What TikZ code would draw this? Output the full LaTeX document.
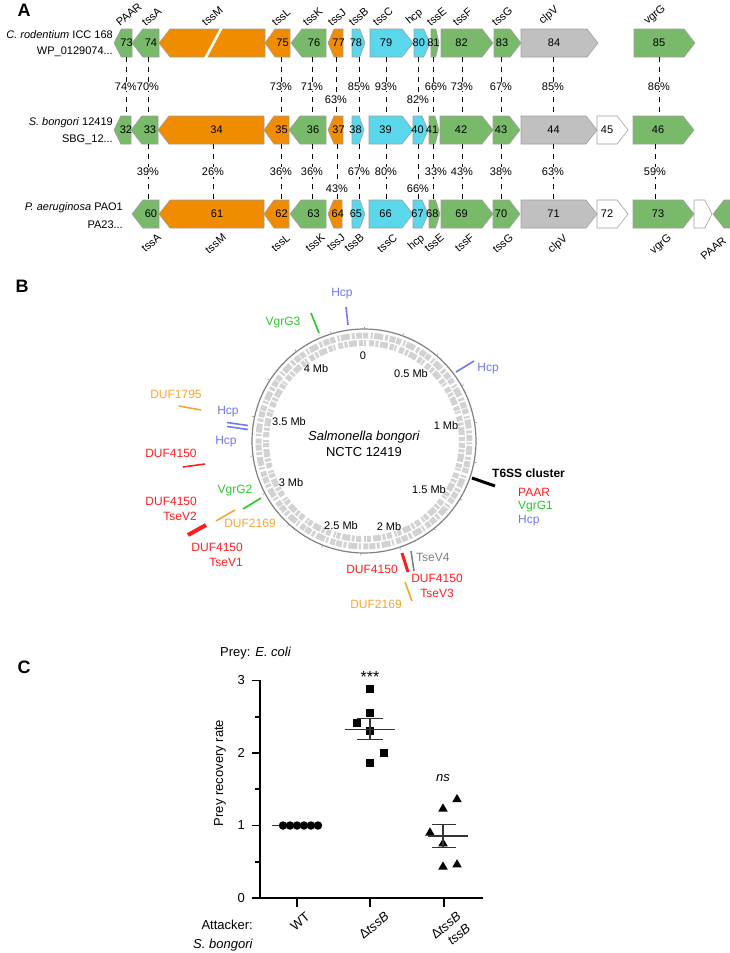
\documentclass[tikz,border=0pt]{standalone}
\usepackage{fontspec}
\setmainfont{Liberation Sans}
\usepackage{tikz}
\usepackage{xcolor}
\usetikzlibrary{shapes.geometric}

\definecolor{genegreen}{RGB}{120,185,106}
\definecolor{geneorange}{RGB}{240,140,0}
\definecolor{genecyan}{RGB}{90,215,235}
\definecolor{genegray}{RGB}{192,192,192}
\definecolor{hcpblue}{RGB}{110,120,240}
\definecolor{vgrgreen}{RGB}{40,200,40}
\definecolor{dufred}{RGB}{255,30,30}
\definecolor{duforange}{RGB}{245,165,50}
\definecolor{trackgray}{RGB}{210,210,210}

\tikzset{%
  genebox/.style={draw=gray!75, line width=.6pt},
  genenum/.style={font=\fontsize{11}{13}\selectfont, inner sep=0pt},
  genename/.style={font=\fontsize{11}{13}\selectfont, inner sep=0pt, rotate=40},
  strainname/.style={font=\fontsize{11}{13}\selectfont, inner sep=0pt, anchor=east},
  idline/.style={line width=.8pt, dash pattern=on 5pt off 5pt},
  pct/.style={font=\fontsize{11}{13}\selectfont, fill=white, inner sep=1pt},
  panel/.style={font=\fontsize{18}{20}\selectfont\bfseries, inner sep=0pt},
  mapline/.style={line width=1.6pt},
  maplabel/.style={font=\fontsize{12}{15}\selectfont, inner sep=0pt},
  scalelabel/.style={font=\fontsize{11}{13}\selectfont, inner sep=0pt},
  axisline/.style={line width=1.8pt, line cap=rect},
  errline/.style={line width=1.1pt, draw=black!80},
  plotlabel/.style={font=\fontsize{13}{15}\selectfont, inner sep=0pt},
  dotmark/.style={circle, fill=black, inner sep=0pt, minimum size=8.5pt},
  squaremark/.style={rectangle, fill=black, inner sep=0pt, minimum size=8pt},
  trianglemark/.style={regular polygon, regular polygon sides=3, fill=black, inner sep=0pt, minimum size=11pt},
}

% gene pointing right: x start, x tip, top, colour, name, number
\newcommand{\generight}[6]{%
  \pgfmathsetmacro{\headlen}{min(11,0.4*(#2-#1))}%
  \filldraw [genebox, fill=#4] (#1,#3) -- (#2-\headlen,#3) -- (#2,#3+14) -- (#2-\headlen,#3+28) -- (#1,#3+28) -- cycle;%
  \node [genenum] (#5) at ({(#1+#2-\headlen)/2},#3+14) {#6};%
}
% gene pointing left: x tip, x end, top, colour, name, number
\newcommand{\geneleft}[6]{%
  \pgfmathsetmacro{\headlen}{min(11,0.4*(#2-#1))}%
  \filldraw [genebox, fill=#4] (#1,#3+14) -- (#1+\headlen,#3) -- (#2,#3) -- (#2,#3+28) -- (#1+\headlen,#3+28) -- cycle;%
  \node [genenum] (#5) at ({(#1+\headlen+#2)/2},#3+14) {#6};%
}

\begin{document}
\begin{tikzpicture}[x=1pt, y=-1pt]%
\useasboundingbox (0,0) rectangle (730,953);%
%% A: gene clusters
\node [panel] (la) at (24,10) {A};%
\node [strainname] (cr1) at (113,35) {\textit{C. rodentium} ICC 168};%
\node [strainname] (cr2) at (113,52) {WP\_0129074...};%
\node [strainname] (sb1) at (113,123) {\textit{S. bongori} 12419};%
\node [strainname] (sb2) at (113,140) {SBG\_12...};%
\node [strainname] (pa1) at (123,208) {\textit{P. aeruginosa} PAO1};%
\node [strainname] (pa2) at (123,225) {PA23...};%
% row 1
\geneleft{114}{132}{29}{genegreen}{c73}{73}%
\geneleft{132}{159}{29}{genegreen}{c74}{74}%
\geneleft{159}{265}{29}{geneorange}{cM}{}%
\draw [white, line width=2.6pt] (222.5,26) -- (204.5,60);%
\geneleft{265}{290}{29}{geneorange}{c75}{75}%
\geneleft{291}{326}{29}{genegreen}{c76}{76}%
\geneleft{328}{343}{29}{geneorange}{c77}{77}%
\generight{352}{365}{29}{genecyan}{c78}{78}%
\generight{370}{413}{29}{genecyan}{c79}{79}%
\generight{414}{430}{29}{genecyan}{c80}{80}%
\generight{431}{439}{29}{genegreen}{c81}{81}%
\generight{441}{493}{29}{genegreen}{c82}{82}%
\generight{494}{521}{29}{genegreen}{c83}{83}%
\generight{521}{598}{29}{genegray}{c84}{84}%
\generight{634}{695}{29}{genegreen}{c85}{85}%
% row 2
\geneleft{114}{131}{116}{genegreen}{s32}{32}%
\geneleft{131}{158}{116}{genegreen}{s33}{33}%
\geneleft{158}{264}{116}{geneorange}{s34}{34}%
\geneleft{264}{289}{116}{geneorange}{s35}{35}%
\geneleft{289}{326}{116}{genegreen}{s36}{36}%
\geneleft{328}{343}{116}{geneorange}{s37}{37}%
\generight{352}{364}{116}{genecyan}{s38}{38}%
\generight{369}{413}{116}{genecyan}{s39}{39}%
\generight{413}{428}{116}{genecyan}{s40}{40}%
\generight{429}{439}{116}{genegreen}{s41}{41}%
\generight{440}{493}{116}{genegreen}{s42}{42}%
\generight{493}{520}{116}{genegreen}{s43}{43}%
\generight{521}{597}{116}{genegray}{s44}{44}%
\generight{597}{628}{116}{white}{s45}{45}%
\generight{633}{694}{116}{genegreen}{s46}{46}%
% row 3
\geneleft{132}{159}{200}{genegreen}{p60}{60}%
\geneleft{159}{264}{200}{geneorange}{p61}{61}%
\geneleft{264}{289}{200}{geneorange}{p62}{62}%
\geneleft{290}{326}{200}{genegreen}{p63}{63}%
\geneleft{328}{342}{200}{geneorange}{p64}{64}%
\generight{352}{365}{200}{genecyan}{p65}{65}%
\generight{369}{413}{200}{genecyan}{p66}{66}%
\generight{413}{428}{200}{genecyan}{p67}{67}%
\generight{429}{440}{200}{genegreen}{p68}{68}%
\generight{441}{493}{200}{genegreen}{p69}{69}%
\generight{493}{520}{200}{genegreen}{p70}{70}%
\generight{521}{597}{200}{genegray}{p71}{71}%
\generight{597}{628}{200}{white}{p72}{72}%
\generight{633}{694}{200}{genegreen}{p73}{73}%
\generight{694}{712}{200}{white}{p74}{}%
\filldraw [genebox, fill=genegreen] (713,214) -- (724,200) -- (730,200) -- (730,228) -- (724,228) -- cycle;%
% gene names
\node [genename, anchor=south west] (tPAAR) at (120,27) {PAAR};%
\node [genename, anchor=south west] (tA) at (146,27) {tssA};%
\node [genename, anchor=south west] (tM) at (206,27) {tssM};%
\node [genename, anchor=south west] (tL) at (276,27) {tssL};%
\node [genename, anchor=south west] (tK) at (307,27) {tssK};%
\node [genename, anchor=south west] (tJ) at (332,27) {tssJ};%
\node [genename, anchor=south west] (tB) at (353,27) {tssB};%
\node [genename, anchor=south west] (tC) at (377,27) {tssC};%
\node [genename, anchor=south west] (thcp) at (411,27) {hcp};%
\node [genename, anchor=south west] (tE) at (431,27) {tssE};%
\node [genename, anchor=south west] (tF) at (457,27) {tssF};%
\node [genename, anchor=south west] (tG) at (496,27) {tssG};%
\node [genename, anchor=south west] (tclpV) at (544,27) {clpV};%
\node [genename, anchor=south west] (tvgrG) at (649,27) {vgrG};%
\node [genename, anchor=north east] (bA) at (157,233) {tssA};%
\node [genename, anchor=north east] (bM) at (222,233) {tssM};%
\node [genename, anchor=north east] (bL) at (286,233) {tssL};%
\node [genename, anchor=north east] (bK) at (321,233) {tssK};%
\node [genename, anchor=north east] (bJ) at (341,233) {tssJ};%
\node [genename, anchor=north east] (bB) at (360,233) {tssB};%
\node [genename, anchor=north east] (bC) at (393,233) {tssC};%
\node [genename, anchor=north east] (bhcp) at (420,233) {hcp};%
\node [genename, anchor=north east] (bE) at (440,233) {tssE};%
\node [genename, anchor=north east] (bF) at (470,233) {tssF};%
\node [genename, anchor=north east] (bG) at (509,233) {tssG};%
\node [genename, anchor=north east] (bclpV) at (563,233) {clpV};%
\node [genename, anchor=north east] (bvgrG) at (667,233) {vgrG};%
\node [genename, anchor=north east] (bPAAR) at (722,236) {PAAR};%
% identities
\draw [idline] (126,57) -- node [pct] (cs1) {74\%} (126,116);%
\draw [idline] (148,57) -- node [pct] (cs2) {70\%} (148,116);%
\draw [idline] (281,57) -- node [pct] (cs3) {73\%} (281,116);%
\draw [idline] (312,57) -- node [pct] (cs4) {71\%} (312,116);%
\draw [idline] (336,57) -- node [pct, pos=.73] (cs5) {63\%} (336,116);%
\draw [idline] (359,57) -- node [pct] (cs6) {85\%} (359,116);%
\draw [idline] (386,57) -- node [pct] (cs7) {93\%} (386,116);%
\draw [idline] (418,57) -- node [pct, pos=.73] (cs8) {82\%} (418,116);%
\draw [idline] (433,57) -- node [pct, xshift=3pt] (cs9) {66\%} (433,116);%
\draw [idline] (462,57) -- node [pct] (cs10) {73\%} (462,116);%
\draw [idline] (501,57) -- node [pct] (cs11) {67\%} (501,116);%
\draw [idline] (553,57) -- node [pct] (cs12) {85\%} (553,116);%
\draw [idline] (659,57) -- node [pct] (cs13) {86\%} (659,116);%
\draw [idline] (148,144) -- node [pct] (sp1) {39\%} (148,200);%
\draw [idline] (213,144) -- node [pct] (sp2) {26\%} (213,200);%
\draw [idline] (281,144) -- node [pct] (sp3) {36\%} (281,200);%
\draw [idline] (312,144) -- node [pct] (sp4) {36\%} (312,200);%
\draw [idline] (337,144) -- node [pct, pos=.79] (sp5) {43\%} (337,200);%
\draw [idline] (359,144) -- node [pct] (sp6) {67\%} (359,200);%
\draw [idline] (386,144) -- node [pct] (sp7) {80\%} (386,200);%
\draw [idline] (418,144) -- node [pct, pos=.79] (sp8) {66\%} (418,200);%
\draw [idline] (433,144) -- node [pct, xshift=3pt] (sp9) {33\%} (433,200);%
\draw [idline] (462,144) -- node [pct] (sp10) {43\%} (462,200);%
\draw [idline] (501,144) -- node [pct] (sp11) {38\%} (501,200);%
\draw [idline] (553,144) -- node [pct] (sp12) {63\%} (553,200);%
\draw [idline] (655,144) -- node [pct] (sp13) {59\%} (655,200);%
%% B: genome map
\node [panel] (lb) at (22,286) {B};%
\begin{scope}[shift={(364,441)}]%
  \draw [trackgray, line width=6pt, dash pattern=on 6pt off 1.5pt on 3pt off 2pt on 9pt off 1.5pt on 2pt off 2.5pt on 5pt off 1pt] (0,0) circle [radius=105.5pt];%
  \draw [trackgray, line width=6pt, dash pattern=on 4pt off 2pt on 8pt off 1.5pt on 3pt off 1.5pt on 5pt off 3pt on 2pt off 1pt] (0,0) circle [radius=98pt];%
  \draw [gray, line width=1.2pt] (0,0) circle [radius=112pt];%
  \foreach \m in {0,0.25,...,4.3}%
    \draw [gray!80, line width=.7pt] ({360*\m/4.46-90}:112) -- ({360*\m/4.46-90}:114.5);%
\end{scope}%
\node [scalelabel] (m0) at (363,356) {0};%
\node [scalelabel] (m05) at (411,374) {0.5 Mb};%
\node [scalelabel] (m1) at (446,426) {1 Mb};%
\node [scalelabel] (m15) at (429,490) {1.5 Mb};%
\node [scalelabel] (m2) at (389,527) {2 Mb};%
\node [scalelabel] (m25) at (341,526) {2.5 Mb};%
\node [scalelabel] (m3) at (291,483) {3 Mb};%
\node [scalelabel] (m35) at (289,422) {3.5 Mb};%
\node [scalelabel] (m4) at (316,369) {4 Mb};%
\node [font=\fontsize{13}{16}\selectfont, align=center, inner sep=0pt] (gname) at (364,444) {\textit{Salmonella bongori}\\NCTC 12419};%
% loci
\draw [mapline, hcpblue] (346,307) -- (348,325);%
\node [maplabel, hcpblue] (hcp1) at (342,294) {Hcp};%
\draw [mapline, vgrgreen] (311,313) -- (319,333);%
\node [maplabel, vgrgreen] (vgrg3) at (283,323) {VgrG3};%
\draw [mapline, hcpblue] (456,372) -- (474,361);%
\node [maplabel, hcpblue] (hcp2) at (488,369) {Hcp};%
\draw [mapline, duforange] (179,406) -- (201,410);%
\node [maplabel, duforange] (duf1795) at (176,394) {DUF1795};%
\draw [mapline, hcpblue] (227,422.5) -- (248,425.5);%
\draw [mapline, hcpblue] (227,426.5) -- (248,429.5);%
\node [maplabel, hcpblue] (hcp3) at (228,412) {Hcp};%
\node [maplabel, hcpblue] (hcp4) at (226,442) {Hcp};%
\draw [mapline, dufred] (183,467) -- (205,464);%
\node [maplabel, dufred] (duf1) at (171,453) {DUF4150};%
\draw [mapline, vgrgreen] (243,509) -- (261,498);%
\node [maplabel, vgrgreen] (vgrg2) at (235,491) {VgrG2};%
\draw [mapline, duforange] (216,521) -- (235,510);%
\node [maplabel, duforange] (duf2169a) at (250,523) {DUF2169};%
\draw [mapline, dufred, line width=4pt] (188,535) -- (206,525);%
\node [maplabel, dufred, align=right, anchor=east] (tsev2) at (197,509) {DUF4150\\TseV2};%
\node [maplabel, dufred, align=right, anchor=east] (tsev1) at (243,555) {DUF4150\\TseV1};%
\draw [mapline, black, line width=3pt] (472,478) -- (495,486);%
\node [maplabel, font=\fontsize{12}{15}\selectfont\bfseries, anchor=west] (t6ss) at (492,473) {T6SS cluster};%
\node [maplabel, dufred, anchor=west] (paar) at (518,492) {PAAR};%
\node [maplabel, vgrgreen, anchor=west] (vgrg1) at (518,507) {VgrG1};%
\node [maplabel, hcpblue, anchor=west] (hcp5) at (518,521) {Hcp};%
\draw [mapline, dufred, line width=3pt] (402,553) -- (408,572);%
\draw [mapline, gray] (411,551) -- (414,571);%
\node [maplabel, gray, anchor=west] (tsev4) at (416,557) {TseV4};%
\node [maplabel, dufred] (duf2) at (372,569) {DUF4150};%
\node [maplabel, dufred, align=center] (tsev3) at (437,586) {DUF4150\\TseV3};%
\draw [mapline, duforange] (405,582) -- (412,601);%
\node [maplabel, duforange] (duf2169b) at (376,604) {DUF2169};%
%% C: prey recovery
\node [panel] (lc) at (24,667) {C};%
\node [plotlabel, anchor=west] (prey) at (220,653) {Prey: \textit{E. coli}};%
\node [plotlabel, rotate=90] (ylab) at (220,773) {Prey recovery rate};%
\node [plotlabel, anchor=east] (att) at (253,925) {Attacker:};%
\node [plotlabel, anchor=east] (sbon) at (253,945) {\textit{S. bongori}};%
\node [plotlabel, rotate=40, anchor=north east] (xwt) at (305,911) {WT};%
\node [plotlabel, rotate=40, anchor=north east] (xdel) at (384,911) {Δ\textit{tssB}};%
\node [plotlabel, rotate=40, anchor=north east, align=right] (xcomp) at (456,911) {Δ\textit{tssB}\\\textit{tssB}};%
\begin{scope}[shift={(0,898)}, y=72.5pt]%
  \draw [axisline, line join=miter] (260,3) -- (260,0) -- (482,0);%
  \foreach \v in {0,1,2,3} {%
    \draw [axisline] (253,\v) -- (260,\v);%
    \node [plotlabel, anchor=east] (y\v) at (245,\v) {\v};%
  }%
  \foreach \v in {0.5,1.5,2.5}%
    \draw [axisline] (256,\v) -- (260,\v);%
  \foreach \x in {297,370,444}%
    \draw [axisline] (\x,0) -- (\x,-0.11);%
  % WT
  \draw [errline] (272,1) -- (321,1);%
  \foreach \x [count=\i] in {283,290,297,304,311,318}%
    \node [dotmark] (w\i) at (\x,1) {};%
  % delta tssB
  \node [squaremark] (d1) at (370,2.88) {};%
  \node [squaremark] (d2) at (370,2.55) {};%
  \node [squaremark] (d3) at (357,2.41) {};%
  \node [squaremark] (d4) at (370,2.30) {};%
  \node [squaremark] (d5) at (384,2.00) {};%
  \node [squaremark] (d6) at (370,1.86) {};%
  \draw [errline] (345,2.33) -- (395,2.33);%
  \draw [errline] (370,2.19) -- (370,2.48);%
  \draw [errline] (357,2.48) -- (383,2.48);%
  \draw [errline] (357,2.19) -- (383,2.19);%
  \node [plotlabel, font=\fontsize{16}{18}\selectfont] (sig) at (370,3.05) {***};%
  % complemented
  \node [trianglemark] (k1) at (457,1.36) {};%
  \node [trianglemark] (k2) at (443,1.23) {};%
  \node [trianglemark] (k3) at (430,0.90) {};%
  \node [trianglemark] (k4) at (443,0.75) {};%
  \node [trianglemark] (k5) at (443,0.43) {};%
  \node [trianglemark] (k6) at (457,0.46) {};%
  \draw [errline] (428,0.855) -- (468,0.855);%
  \draw [errline] (443,0.70) -- (443,1.02);%
  \draw [errline] (432,1.02) -- (456,1.02);%
  \draw [errline] (432,0.70) -- (456,0.70);%
  \node [plotlabel] (ns) at (443,1.66) {\textit{ns}};%
\end{scope}%
\end{tikzpicture}
\end{document}
